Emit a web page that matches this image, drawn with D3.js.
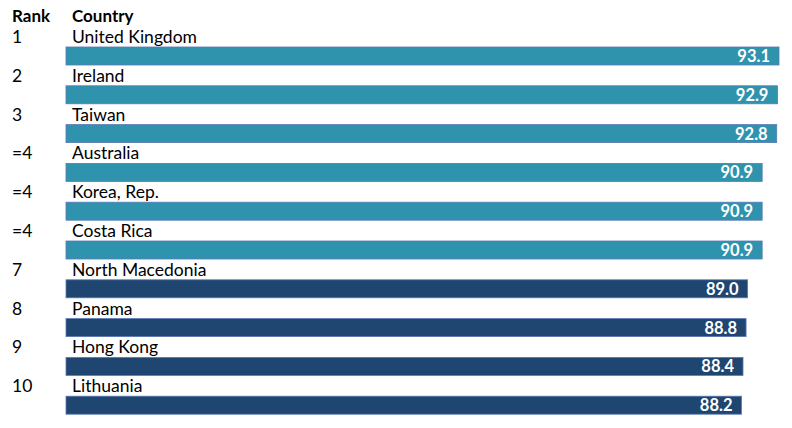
<!DOCTYPE html>
<html><head><meta charset="utf-8">
<script src="https://cdn.jsdelivr.net/npm/d3@7"></script>
<style>html,body{margin:0;padding:0;background:#fff;}</style>
</head><body><svg id="c" width="792" height="428"></svg>
<script>
const ranks = ["1","2","3","=4","=4","=4","7","8","9","10"];
const countries = ["United Kingdom","Ireland","Taiwan","Australia","Korea, Rep.","Costa Rica","North Macedonia","Panama","Hong Kong","Lithuania"];
const values = [93.1,92.9,92.8,90.9,90.9,90.9,89.0,88.8,88.4,88.2];
const groups = ["top","top","top","top","top","top","rest","rest","rest","rest"];
const headers = ["Rank","Country"];
const colors = {top:"#2F93AE", rest:"#1F4670"};
const FONT = "Lato, 'Open Sans', sans-serif";

const svg = d3.select("#c");
const x = d3.scaleLinear().domain([0, 93.1]).range([66, 779]);
const y = d3.scaleBand().domain(d3.range(values.length)).range([36.6, 36.6+38.8*10]).paddingInner(0).paddingOuter(0);
const barH = 18;
const barY = i => y(i) + 10.4;

svg.append("text").attr("x",12).attr("y",21.5).attr("font-family",FONT).attr("font-weight","bold").attr("font-size",17).attr("fill","#000").text(headers[0]);
svg.append("text").attr("x",72).attr("y",21.5).attr("font-family",FONT).attr("font-weight","bold").attr("font-size",17).attr("fill","#000").text(headers[1]);

const g = svg.selectAll("g.row").data(values).enter().append("g").attr("class","row");
g.append("rect")
  .attr("x", x(0)).attr("y",(d,i)=>barY(i))
  .attr("width", d=>x(d)-x(0)).attr("height", barH)
  .attr("fill",(d,i)=>colors[groups[i]])
  .attr("stroke","#5B78B4").attr("stroke-width",0.8);
g.append("text").attr("x",12).attr("y",(d,i)=>barY(i)-4)
  .attr("font-family",FONT).attr("font-size",17.5).attr("fill","#000").text((d,i)=>ranks[i]);
g.append("text").attr("x",72).attr("y",(d,i)=>barY(i)-4)
  .attr("font-family",FONT).attr("font-size",17.5).attr("fill","#000").text((d,i)=>countries[i]);
g.append("text").attr("x",d=>x(d)-9).attr("y",(d,i)=>barY(i)+15)
  .attr("text-anchor","end").attr("font-family",FONT).attr("font-weight","bold").attr("font-size",16.5).attr("fill","#fff")
  .text(d=>d.toFixed(1));
</script></body></html>
